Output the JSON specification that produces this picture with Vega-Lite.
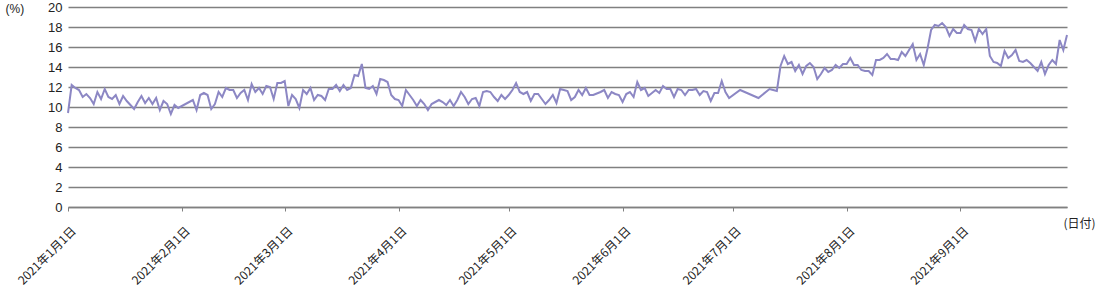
{
  "$schema": "https://vega.github.io/schema/vega-lite/v6.json",
  "autosize": {"type": "none"},
  "width": 999,
  "height": 200,
  "padding": {"left": 68, "top": 7, "right": 33, "bottom": 81},
  "background": "#ffffff",
  "config": {
    "view": {"stroke": null},
    "font": "Noto Sans CJK JP",
    "axis": {"labelFont": "Noto Sans CJK JP", "titleFont": "Noto Sans CJK JP", "labelColor": "#222222", "titleColor": "#222222"}
  },
  "data": {"values": [
    {"date": "2021-01-01", "v": 9.4}, {"date": "2021-01-02", "v": 12.2}, {"date": "2021-01-03", "v": 11.9}, {"date": "2021-01-04", "v": 11.7},
    {"date": "2021-01-05", "v": 11.0}, {"date": "2021-01-06", "v": 11.3}, {"date": "2021-01-07", "v": 10.9}, {"date": "2021-01-08", "v": 10.3},
    {"date": "2021-01-09", "v": 11.5}, {"date": "2021-01-10", "v": 10.8}, {"date": "2021-01-11", "v": 11.8}, {"date": "2021-01-12", "v": 11.0},
    {"date": "2021-01-13", "v": 10.8}, {"date": "2021-01-14", "v": 11.2}, {"date": "2021-01-15", "v": 10.3}, {"date": "2021-01-16", "v": 11.1},
    {"date": "2021-01-17", "v": 10.6}, {"date": "2021-01-19", "v": 9.8}, {"date": "2021-01-20", "v": 10.5}, {"date": "2021-01-21", "v": 11.1},
    {"date": "2021-01-22", "v": 10.4}, {"date": "2021-01-23", "v": 10.9}, {"date": "2021-01-24", "v": 10.3}, {"date": "2021-01-25", "v": 10.9},
    {"date": "2021-01-26", "v": 9.7}, {"date": "2021-01-27", "v": 10.6}, {"date": "2021-01-28", "v": 10.3}, {"date": "2021-01-29", "v": 9.3},
    {"date": "2021-01-30", "v": 10.2}, {"date": "2021-01-31", "v": 9.9}, {"date": "2021-02-04", "v": 10.7}, {"date": "2021-02-05", "v": 9.7},
    {"date": "2021-02-06", "v": 11.2}, {"date": "2021-02-07", "v": 11.4}, {"date": "2021-02-08", "v": 11.2}, {"date": "2021-02-09", "v": 9.8},
    {"date": "2021-02-10", "v": 10.3}, {"date": "2021-02-11", "v": 11.5}, {"date": "2021-02-12", "v": 11.0}, {"date": "2021-02-13", "v": 11.9},
    {"date": "2021-02-14", "v": 11.7}, {"date": "2021-02-15", "v": 11.7}, {"date": "2021-02-16", "v": 10.9}, {"date": "2021-02-17", "v": 11.4},
    {"date": "2021-02-18", "v": 11.7}, {"date": "2021-02-19", "v": 10.7}, {"date": "2021-02-20", "v": 12.3}, {"date": "2021-02-21", "v": 11.5},
    {"date": "2021-02-22", "v": 11.9}, {"date": "2021-02-23", "v": 11.3}, {"date": "2021-02-24", "v": 12.1}, {"date": "2021-02-25", "v": 12.0},
    {"date": "2021-02-26", "v": 10.8}, {"date": "2021-02-27", "v": 12.4}, {"date": "2021-02-28", "v": 12.4}, {"date": "2021-03-01", "v": 12.6},
    {"date": "2021-03-02", "v": 10.1}, {"date": "2021-03-03", "v": 11.2}, {"date": "2021-03-04", "v": 10.8}, {"date": "2021-03-05", "v": 9.9},
    {"date": "2021-03-06", "v": 11.7}, {"date": "2021-03-07", "v": 11.3}, {"date": "2021-03-08", "v": 11.9}, {"date": "2021-03-09", "v": 10.7},
    {"date": "2021-03-10", "v": 11.2}, {"date": "2021-03-11", "v": 11.1}, {"date": "2021-03-12", "v": 10.7}, {"date": "2021-03-13", "v": 11.8},
    {"date": "2021-03-14", "v": 11.8}, {"date": "2021-03-15", "v": 12.2}, {"date": "2021-03-16", "v": 11.6}, {"date": "2021-03-17", "v": 12.2},
    {"date": "2021-03-18", "v": 11.7}, {"date": "2021-03-19", "v": 11.9}, {"date": "2021-03-20", "v": 13.2}, {"date": "2021-03-21", "v": 13.1},
    {"date": "2021-03-22", "v": 14.3}, {"date": "2021-03-23", "v": 11.9}, {"date": "2021-03-24", "v": 11.8}, {"date": "2021-03-25", "v": 12.1},
    {"date": "2021-03-26", "v": 11.3}, {"date": "2021-03-27", "v": 12.8}, {"date": "2021-03-28", "v": 12.7}, {"date": "2021-03-29", "v": 12.5},
    {"date": "2021-03-30", "v": 11.2}, {"date": "2021-03-31", "v": 10.8}, {"date": "2021-04-01", "v": 10.7}, {"date": "2021-04-02", "v": 10.1},
    {"date": "2021-04-03", "v": 11.7}, {"date": "2021-04-04", "v": 11.2}, {"date": "2021-04-05", "v": 10.7}, {"date": "2021-04-06", "v": 10.1},
    {"date": "2021-04-07", "v": 10.7}, {"date": "2021-04-08", "v": 10.3}, {"date": "2021-04-09", "v": 9.7}, {"date": "2021-04-10", "v": 10.3},
    {"date": "2021-04-11", "v": 10.5}, {"date": "2021-04-12", "v": 10.7}, {"date": "2021-04-13", "v": 10.5}, {"date": "2021-04-14", "v": 10.2},
    {"date": "2021-04-15", "v": 10.7}, {"date": "2021-04-16", "v": 10.1}, {"date": "2021-04-17", "v": 10.7}, {"date": "2021-04-18", "v": 11.5},
    {"date": "2021-04-19", "v": 11.0}, {"date": "2021-04-20", "v": 10.3}, {"date": "2021-04-21", "v": 10.8}, {"date": "2021-04-22", "v": 10.9},
    {"date": "2021-04-23", "v": 10.1}, {"date": "2021-04-24", "v": 11.5}, {"date": "2021-04-25", "v": 11.6}, {"date": "2021-04-26", "v": 11.5},
    {"date": "2021-04-27", "v": 11.0}, {"date": "2021-04-28", "v": 10.6}, {"date": "2021-04-29", "v": 11.2}, {"date": "2021-04-30", "v": 10.8},
    {"date": "2021-05-01", "v": 11.2}, {"date": "2021-05-02", "v": 11.7}, {"date": "2021-05-03", "v": 12.4}, {"date": "2021-05-04", "v": 11.5},
    {"date": "2021-05-05", "v": 11.3}, {"date": "2021-05-06", "v": 11.5}, {"date": "2021-05-07", "v": 10.6}, {"date": "2021-05-08", "v": 11.3},
    {"date": "2021-05-09", "v": 11.3}, {"date": "2021-05-10", "v": 10.8}, {"date": "2021-05-11", "v": 10.3}, {"date": "2021-05-12", "v": 10.7},
    {"date": "2021-05-13", "v": 11.2}, {"date": "2021-05-14", "v": 10.4}, {"date": "2021-05-15", "v": 11.8}, {"date": "2021-05-16", "v": 11.7},
    {"date": "2021-05-17", "v": 11.6}, {"date": "2021-05-18", "v": 10.7}, {"date": "2021-05-19", "v": 11.0}, {"date": "2021-05-20", "v": 11.7},
    {"date": "2021-05-21", "v": 11.2}, {"date": "2021-05-22", "v": 11.9}, {"date": "2021-05-23", "v": 11.2}, {"date": "2021-05-24", "v": 11.2},
    {"date": "2021-05-26", "v": 11.5}, {"date": "2021-05-27", "v": 11.7}, {"date": "2021-05-28", "v": 10.9}, {"date": "2021-05-29", "v": 11.5},
    {"date": "2021-05-30", "v": 11.3}, {"date": "2021-05-31", "v": 11.2}, {"date": "2021-06-01", "v": 10.5}, {"date": "2021-06-02", "v": 11.3},
    {"date": "2021-06-03", "v": 11.5}, {"date": "2021-06-04", "v": 11.0}, {"date": "2021-06-05", "v": 12.5}, {"date": "2021-06-06", "v": 11.7},
    {"date": "2021-06-07", "v": 11.9}, {"date": "2021-06-08", "v": 11.1}, {"date": "2021-06-09", "v": 11.4}, {"date": "2021-06-10", "v": 11.7},
    {"date": "2021-06-11", "v": 11.4}, {"date": "2021-06-12", "v": 12.1}, {"date": "2021-06-13", "v": 11.8}, {"date": "2021-06-14", "v": 11.8},
    {"date": "2021-06-15", "v": 11.0}, {"date": "2021-06-16", "v": 11.8}, {"date": "2021-06-17", "v": 11.7}, {"date": "2021-06-18", "v": 11.2},
    {"date": "2021-06-19", "v": 11.7}, {"date": "2021-06-20", "v": 11.7}, {"date": "2021-06-21", "v": 11.8}, {"date": "2021-06-22", "v": 11.2},
    {"date": "2021-06-23", "v": 11.6}, {"date": "2021-06-24", "v": 11.5}, {"date": "2021-06-25", "v": 10.6}, {"date": "2021-06-26", "v": 11.4},
    {"date": "2021-06-27", "v": 11.4}, {"date": "2021-06-28", "v": 12.6}, {"date": "2021-06-29", "v": 11.5}, {"date": "2021-06-30", "v": 10.9},
    {"date": "2021-07-03", "v": 11.7}, {"date": "2021-07-08", "v": 10.9}, {"date": "2021-07-11", "v": 11.8}, {"date": "2021-07-12", "v": 11.7},
    {"date": "2021-07-13", "v": 11.6}, {"date": "2021-07-14", "v": 14.1}, {"date": "2021-07-15", "v": 15.1}, {"date": "2021-07-16", "v": 14.3},
    {"date": "2021-07-17", "v": 14.5}, {"date": "2021-07-18", "v": 13.6}, {"date": "2021-07-19", "v": 14.2}, {"date": "2021-07-20", "v": 13.3},
    {"date": "2021-07-21", "v": 14.1}, {"date": "2021-07-22", "v": 14.4}, {"date": "2021-07-23", "v": 14.0}, {"date": "2021-07-24", "v": 12.8},
    {"date": "2021-07-25", "v": 13.3}, {"date": "2021-07-26", "v": 13.9}, {"date": "2021-07-27", "v": 13.5}, {"date": "2021-07-28", "v": 13.7},
    {"date": "2021-07-29", "v": 14.2}, {"date": "2021-07-30", "v": 13.9}, {"date": "2021-07-31", "v": 14.3}, {"date": "2021-08-01", "v": 14.3},
    {"date": "2021-08-02", "v": 14.9}, {"date": "2021-08-03", "v": 14.2}, {"date": "2021-08-04", "v": 14.2}, {"date": "2021-08-05", "v": 13.7},
    {"date": "2021-08-06", "v": 13.6}, {"date": "2021-08-07", "v": 13.6}, {"date": "2021-08-08", "v": 13.2}, {"date": "2021-08-09", "v": 14.7},
    {"date": "2021-08-10", "v": 14.7}, {"date": "2021-08-11", "v": 14.9}, {"date": "2021-08-12", "v": 15.3}, {"date": "2021-08-13", "v": 14.8},
    {"date": "2021-08-14", "v": 14.8}, {"date": "2021-08-15", "v": 14.7}, {"date": "2021-08-16", "v": 15.5}, {"date": "2021-08-17", "v": 15.1},
    {"date": "2021-08-18", "v": 15.7}, {"date": "2021-08-19", "v": 16.3}, {"date": "2021-08-20", "v": 14.7}, {"date": "2021-08-21", "v": 15.3},
    {"date": "2021-08-22", "v": 14.2}, {"date": "2021-08-23", "v": 15.8}, {"date": "2021-08-24", "v": 17.7}, {"date": "2021-08-25", "v": 18.2},
    {"date": "2021-08-26", "v": 18.1}, {"date": "2021-08-27", "v": 18.4}, {"date": "2021-08-28", "v": 18.0}, {"date": "2021-08-29", "v": 17.1},
    {"date": "2021-08-30", "v": 17.8}, {"date": "2021-08-31", "v": 17.4}, {"date": "2021-09-01", "v": 17.4}, {"date": "2021-09-02", "v": 18.2},
    {"date": "2021-09-03", "v": 17.8}, {"date": "2021-09-04", "v": 17.7}, {"date": "2021-09-05", "v": 16.6}, {"date": "2021-09-06", "v": 17.8},
    {"date": "2021-09-07", "v": 17.3}, {"date": "2021-09-08", "v": 17.8}, {"date": "2021-09-09", "v": 15.1}, {"date": "2021-09-10", "v": 14.5},
    {"date": "2021-09-11", "v": 14.4}, {"date": "2021-09-12", "v": 14.1}, {"date": "2021-09-13", "v": 15.6}, {"date": "2021-09-14", "v": 14.9},
    {"date": "2021-09-15", "v": 15.2}, {"date": "2021-09-16", "v": 15.7}, {"date": "2021-09-17", "v": 14.6}, {"date": "2021-09-18", "v": 14.5},
    {"date": "2021-09-19", "v": 14.7}, {"date": "2021-09-20", "v": 14.4}, {"date": "2021-09-21", "v": 14.0}, {"date": "2021-09-22", "v": 13.6},
    {"date": "2021-09-23", "v": 14.5}, {"date": "2021-09-24", "v": 13.3}, {"date": "2021-09-25", "v": 14.2}, {"date": "2021-09-26", "v": 14.7},
    {"date": "2021-09-27", "v": 14.3}, {"date": "2021-09-28", "v": 16.7}, {"date": "2021-09-29", "v": 15.7}, {"date": "2021-09-30", "v": 17.2}
  ]},
  "mark": {"type": "line", "color": "#8c87c4", "strokeWidth": 2, "interpolate": "linear"},
  "encoding": {
    "x": {
      "field": "date",
      "type": "temporal",
      "scale": {
        "type": "utc",
        "domain": [{"year": 2021, "month": 1, "date": 1, "utc": true}, {"year": 2021, "month": 9, "date": 30, "utc": true}],
        "nice": false
      },
      "axis": {
        "values": [
          {"year": 2021, "month": 1, "date": 1, "utc": true},
          {"year": 2021, "month": 2, "date": 1, "utc": true},
          {"year": 2021, "month": 3, "date": 1, "utc": true},
          {"year": 2021, "month": 4, "date": 1, "utc": true},
          {"year": 2021, "month": 5, "date": 1, "utc": true},
          {"year": 2021, "month": 6, "date": 1, "utc": true},
          {"year": 2021, "month": 7, "date": 1, "utc": true},
          {"year": 2021, "month": 8, "date": 1, "utc": true},
          {"year": 2021, "month": 9, "date": 1, "utc": true}
        ],
        "labelExpr": "utcFormat(datum.value, '%Y年%-m月%-d日')",
        "labelAngle": -45,
        "labelAlign": "right",
        "labelBaseline": "top",
        "labelFontSize": 12,
        "labelPadding": 14,
        "labelOffset": 2,
        "labelFlush": false,
        "labelOverlap": false,
        "grid": false,
        "domain": true,
        "domainColor": "#808080",
        "domainWidth": 1.5,
        "ticks": true,
        "tickColor": "#808080",
        "tickSize": 4,
        "tickWidth": 1,
        "title": "(日付)",
        "titleFontSize": 12,
        "titleFontWeight": "normal",
        "titleAlign": "left",
        "titleBaseline": "middle",
        "titleAnchor": null,
        "titleX": 995,
        "titleY": 16
      }
    },
    "y": {
      "field": "v",
      "type": "quantitative",
      "scale": {"domain": [0, 20], "nice": false, "zero": true},
      "axis": {
        "values": [0, 2, 4, 6, 8, 10, 12, 14, 16, 18, 20],
        "grid": true,
        "gridColor": "#808080",
        "gridWidth": 1.5,
        "domain": false,
        "ticks": false,
        "labelFont": "Liberation Sans",
        "labelFontSize": 13,
        "labelPadding": 6,
        "title": "(%)",
        "titleFont": "Liberation Sans",
        "titleAngle": 0,
        "titleFontSize": 12,
        "titleFontWeight": "normal",
        "titleAlign": "left",
        "titleBaseline": "middle",
        "titleAnchor": null,
        "titleX": -63,
        "titleY": 1
      }
    }
  }
}
